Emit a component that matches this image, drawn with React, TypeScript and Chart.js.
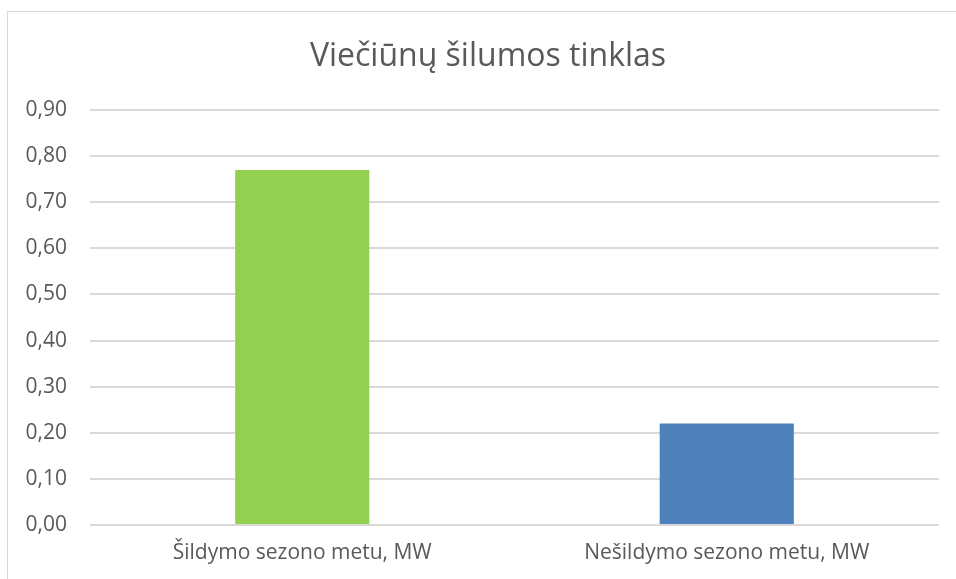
import React, { useEffect, useRef } from "react";
import { Chart, registerables } from "chart.js";

Chart.register(...registerables);

const TITLE = "Viečiūnų šilumos tinklas";
const CATEGORIES = ["Šildymo sezono metu, MW", "Nešildymo sezono metu, MW"];
const VALUES = [0.77, 0.22];
const BAR_COLORS = ["#92d050", "#4f81bd"];
const Y_MIN = 0;
const Y_MAX = 0.9;
const Y_STEP = 0.1;

const FONT = "'Open Sans', 'Noto Sans', sans-serif";
const TEXT = "#595959";
const GRID = "#d9d9d9";

// The reference's title sits a little to the right of the canvas centre.
const titleShift = {
  id: "titleShift",
  afterLayout(chart: any) {
    const t = chart.titleBlock;
    if (t) t.left = t.left + 17;
  },
};

export default function App() {
  const ref = useRef<HTMLCanvasElement | null>(null);

  useEffect(() => {
    document.body.style.margin = "0";
    const ctx = ref.current!.getContext("2d")!;
    const chart = new Chart(ctx, {
      type: "bar",
      data: {
        labels: CATEGORIES,
        datasets: [
          {
            data: VALUES,
            backgroundColor: BAR_COLORS,
            borderWidth: 0,
            categoryPercentage: 1,
            barPercentage: 0.316,
          },
        ],
      },
      options: {
        animation: false,
        responsive: false,
        maintainAspectRatio: false,
        layout: { padding: { left: 20, right: 17, top: 0, bottom: 0 } },
        plugins: {
          legend: { display: false },
          tooltip: { enabled: false },
          title: {
            display: true,
            text: TITLE,
            color: TEXT,
            font: { family: FONT, size: 32, weight: "normal" },
            padding: { top: 37.8, bottom: 33.8 },
          },
        },
        scales: {
          x: {
            grid: { display: false, drawTicks: false },
            border: { display: false },
            ticks: {
              color: TEXT,
              font: { family: FONT, size: 21 },
              padding: 15,
              maxRotation: 0,
              autoSkip: false,
            },
            afterFit: (s: any) => {
              s.height = 54;
            },
          },
          y: {
            min: Y_MIN,
            max: Y_MAX,
            grid: { color: GRID, lineWidth: 2, drawTicks: false },
            border: { display: false },
            ticks: {
              stepSize: Y_STEP,
              color: TEXT,
              font: { family: FONT, size: 21 },
              padding: 23,
              callback: (v: any) => Number(v).toFixed(2).replace(".", ","),
            },
            afterFit: (s: any) => {
              s.width = 70;
            },
          },
        },
      },
      plugins: [titleShift],
    });
    return () => chart.destroy();
  }, []);

  return (
    <div
      style={{
        position: "fixed",
        left: 0,
        top: 0,
        width: 956,
        height: 579,
        background: "#fff",
        overflow: "hidden",
      }}
    >
      <canvas ref={ref} width={956} height={579} style={{ display: "block" }} />
      <div
        style={{
          position: "absolute",
          left: 7,
          top: 11,
          width: 1000,
          height: 700,
          borderLeft: "1px solid #d9d9d9",
          borderTop: "1px solid #d9d9d9",
          pointerEvents: "none",
        }}
      />
    </div>
  );
}
